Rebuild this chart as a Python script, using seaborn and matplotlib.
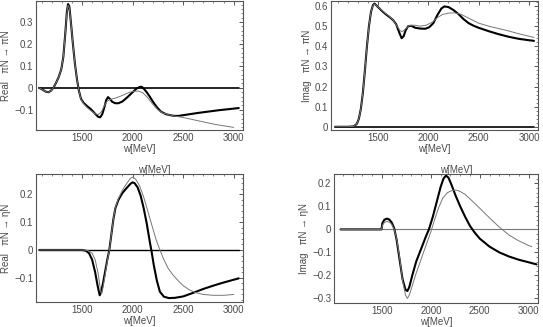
import numpy as np
import matplotlib
matplotlib.use('Agg')
import matplotlib.pyplot as plt
import seaborn as sns
from matplotlib.ticker import MultipleLocator, FuncFormatter

# ──────────────────────────────────────────
# Data (w in MeV)
# ──────────────────────────────────────────
# Real  piN -> piN
re_pi_x_a = [1077, 1110, 1140, 1170, 1195, 1220, 1245, 1270, 1295, 1315, 1335, 1350, 1362, 1375, 1390,
             1410, 1430, 1450, 1470, 1490, 1515, 1550, 1590, 1630, 1660, 1680, 1700, 1720, 1740, 1757,
             1775, 1800, 1830, 1860, 1900, 1950, 2000, 2040, 2070, 2090, 2110, 2140, 2170, 2200, 2240,
             2280, 2330, 2400, 2450, 2550, 2650, 2750, 2850, 2950, 3050]
re_pi_y_a = [0.0, -0.008, -0.017, -0.020, -0.012, 0.003, 0.025, 0.050, 0.085, 0.140, 0.250, 0.345, 0.382,
             0.370, 0.300, 0.200, 0.110, 0.040, -0.015, -0.050, -0.068, -0.083, -0.098, -0.118, -0.132,
             -0.134, -0.120, -0.090, -0.055, -0.042, -0.050, -0.064, -0.070, -0.070, -0.062, -0.042,
             -0.020, -0.003, 0.004, 0.005, -0.003, -0.020, -0.040, -0.062, -0.088, -0.108, -0.120,
             -0.127, -0.128, -0.121, -0.114, -0.108, -0.102, -0.097, -0.092]
re_pi_x_b = [1077, 1110, 1140, 1170, 1195, 1220, 1245, 1270, 1295, 1315, 1335, 1350, 1362, 1375, 1390,
             1410, 1430, 1450, 1470, 1490, 1515, 1550, 1590, 1630, 1660, 1690, 1720, 1750, 1780, 1820,
             1870, 1920, 1970, 2020, 2060, 2100, 2150, 2200, 2250, 2300, 2400, 2500, 2600, 2700, 2800,
             2900, 3000]
re_pi_y_b = [0.0, -0.008, -0.017, -0.020, -0.012, 0.003, 0.025, 0.050, 0.085, 0.140, 0.250, 0.340, 0.376,
             0.365, 0.300, 0.200, 0.110, 0.040, -0.015, -0.052, -0.072, -0.090, -0.105, -0.118, -0.122,
             -0.110, -0.082, -0.060, -0.052, -0.048, -0.040, -0.030, -0.020, -0.015, -0.015, -0.022,
             -0.045, -0.075, -0.100, -0.115, -0.127, -0.135, -0.145, -0.155, -0.165, -0.173, -0.180]

# Imag  piN -> piN
im_pi_x_a = [1077, 1200, 1260, 1290, 1310, 1330, 1350, 1370, 1390, 1410, 1430, 1450, 1465, 1490, 1530,
             1570, 1610, 1650, 1680, 1710, 1735, 1755, 1775, 1800, 1830, 1870, 1920, 1970, 2010, 2050,
             2090, 2130, 2160, 2200, 2250, 2300, 2350, 2400, 2450, 2500, 2600, 2700, 2800, 2900, 3000, 3050]
im_pi_y_a = [0.0, 0.0, 0.002, 0.015, 0.04, 0.09, 0.17, 0.28, 0.40, 0.50, 0.57, 0.605, 0.612, 0.600, 0.580,
             0.562, 0.547, 0.530, 0.510, 0.470, 0.440, 0.450, 0.480, 0.500, 0.502, 0.492, 0.488, 0.487,
             0.495, 0.515, 0.555, 0.588, 0.598, 0.595, 0.580, 0.560, 0.535, 0.515, 0.502, 0.492, 0.475,
             0.460, 0.447, 0.437, 0.430, 0.427]
im_pi_x_b = [1077, 1200, 1260, 1290, 1310, 1330, 1350, 1370, 1390, 1410, 1430, 1450, 1465, 1490, 1530,
             1570, 1610, 1650, 1690, 1720, 1740, 1770, 1810, 1860, 1920, 1980, 2040, 2090, 2140, 2200,
             2260, 2320, 2400, 2500, 2600, 2700, 2800, 2900, 3000, 3050]
im_pi_y_b = [0.0, 0.0, 0.002, 0.015, 0.04, 0.09, 0.17, 0.28, 0.40, 0.50, 0.57, 0.603, 0.610, 0.600, 0.582,
             0.565, 0.550, 0.530, 0.500, 0.478, 0.472, 0.485, 0.503, 0.505, 0.500, 0.505, 0.520, 0.542,
             0.558, 0.565, 0.566, 0.560, 0.540, 0.515, 0.500, 0.488, 0.476, 0.462, 0.450, 0.444]

# Real  piN -> etaN
re_eta_x_a = [1077, 1300, 1500, 1540, 1570, 1600, 1630, 1655, 1675, 1690, 1710, 1730, 1750, 1770, 1790,
              1810, 1830, 1860, 1900, 1940, 1980, 2000, 2020, 2050, 2080, 2110, 2140, 2170, 2190, 2210,
              2240, 2270, 2310, 2360, 2420, 2500, 2600, 2700, 2800, 2900, 3000, 3050]
re_eta_y_a = [0.0, 0.0, 0.0, -0.003, -0.012, -0.035, -0.080, -0.130, -0.163, -0.150, -0.115, -0.075,
              -0.035, 0.0, 0.055, 0.110, 0.150, 0.180, 0.205, 0.222, 0.238, 0.243, 0.240, 0.225, 0.195,
              0.150, 0.095, 0.030, -0.010, -0.055, -0.110, -0.150, -0.168, -0.173, -0.172, -0.167,
              -0.154, -0.140, -0.128, -0.117, -0.107, -0.102]
re_eta_x_b = [1077, 1300, 1500, 1560, 1600, 1630, 1660, 1685, 1695, 1710, 1730, 1750, 1770, 1790, 1810,
              1830, 1860, 1900, 1940, 1980, 2000, 2030, 2070, 2110, 2150, 2190, 2230, 2270, 2310, 2350,
              2400, 2450, 2500, 2560, 2620, 2700, 2800, 2900, 3000]
re_eta_y_b = [0.0, 0.0, 0.0, -0.002, -0.012, -0.035, -0.085, -0.150, -0.158, -0.130, -0.085, -0.040,
              0.0, 0.055, 0.110, 0.152, 0.185, 0.215, 0.238, 0.258, 0.262, 0.255, 0.230, 0.190, 0.140,
              0.090, 0.040, 0.0, -0.035, -0.065, -0.090, -0.110, -0.128, -0.143, -0.153, -0.160,
              -0.163, -0.163, -0.160]

# Imag  piN -> etaN
im_eta_x_a = [1077, 1300, 1495, 1505, 1525, 1550, 1575, 1600, 1625, 1650, 1680, 1710, 1740, 1760, 1780,
              1810, 1850, 1900, 1950, 1980, 2020, 2060, 2100, 2130, 2155, 2180, 2210, 2250, 2300, 2350,
              2400, 2450, 2500, 2600, 2700, 2800, 2900, 3000, 3080]
im_eta_y_a = [0.0, 0.0, 0.0, 0.028, 0.042, 0.047, 0.043, 0.030, 0.005, -0.045, -0.130, -0.215, -0.262,
              -0.268, -0.250, -0.200, -0.140, -0.085, -0.030, 0.000, 0.055, 0.120, 0.185, 0.222, 0.234,
              0.225, 0.195, 0.150, 0.100, 0.055, 0.015, -0.015, -0.040, -0.075, -0.100, -0.118, -0.132,
              -0.143, -0.152]
im_eta_x_b = [1077, 1300, 1495, 1505, 1525, 1550, 1575, 1600, 1625, 1650, 1680, 1710, 1740, 1760, 1780,
              1810, 1850, 1900, 1950, 2000, 2040, 2080, 2120, 2170, 2220, 2260, 2300, 2350, 2400, 2500,
              2600, 2700, 2800, 2900, 3000, 3030]
im_eta_y_b = [0.0, 0.0, 0.0, 0.018, 0.030, 0.035, 0.032, 0.022, 0.000, -0.040, -0.120, -0.220, -0.285,
              -0.300, -0.285, -0.245, -0.190, -0.130, -0.070, -0.010, 0.045, 0.095, 0.135, 0.160, 0.170,
              0.171, 0.165, 0.152, 0.133, 0.092, 0.050, 0.010, -0.025, -0.050, -0.070, -0.075]

ylabels = ['Real   \u03c0N \u2192 \u03c0N', 'Imag   \u03c0N \u2192 \u03c0N',
           'Real   \u03c0N \u2192 \u03b7N', 'Imag   \u03c0N \u2192 \u03b7N']
xlabel = 'w[MeV]'

# ──────────────────────────────────────────
# Style
# ──────────────────────────────────────────
sns.set_style('white')
plt.rcParams['font.family'] = ['Liberation Sans', 'DejaVu Sans']
fs = 7
text_col = '#4a4a4a'

fig = plt.figure(figsize=(5.43, 3.27), dpi=100)
W, H = 543, 327
def add_ax(l, r, t, b):
    return fig.add_axes([l / W, 1 - b / H, (r - l) / W, (b - t) / H])

ax_tl = add_ax(36, 243, 1, 130)
ax_tr = add_ax(331, 538, 1, 130)
ax_bl = add_ax(36, 243, 174, 302)
ax_br = add_ax(334, 538, 174, 303)

panels = [
    (ax_tl, re_pi_x_a, re_pi_y_a, re_pi_x_b, re_pi_y_b, (1045, 3092), (-0.192, 0.396), 'black', 1.2),
    (ax_tr, im_pi_x_a, im_pi_y_a, im_pi_x_b, im_pi_y_b, (1033, 3090), (-0.016, 0.625), 'black', 1.2),
    (ax_bl, re_eta_x_a, re_eta_y_a, re_eta_x_b, re_eta_y_b, (1045, 3092), (-0.187, 0.273), 'black', 1.0),
    (ax_br, im_eta_x_a, im_eta_y_a, im_eta_x_b, im_eta_y_b, (1010, 3095), (-0.32, 0.241), '#777777', 0.8),
]

def fmt(v, pos):
    if abs(v) < 1e-9:
        return '0'
    return f'{v:.1f}'.replace('-', '\u2212')

for i, (ax, xa, ya, xb, yb, xl, yl, zc, zw) in enumerate(panels):
    # zero line
    ax.plot([1077, 3055 if i < 3 else 3085], [0, 0], color=zc, lw=zw, zorder=1)
    sns.lineplot(x=xa, y=ya, ax=ax, color='black', linewidth=1.5, sort=False, estimator=None, zorder=2)
    sns.lineplot(x=xb, y=yb, ax=ax, color='#777777', linewidth=0.7, sort=False, estimator=None, zorder=3)
    ax.set_xlim(*xl)
    ax.set_ylim(*yl)
    ax.xaxis.set_major_locator(MultipleLocator(500))
    ax.xaxis.set_minor_locator(MultipleLocator(100))
    ax.yaxis.set_major_locator(MultipleLocator(0.1))
    ax.yaxis.set_minor_locator(MultipleLocator(0.02))
    ax.yaxis.set_major_formatter(FuncFormatter(fmt))
    ax.xaxis.set_major_formatter(FuncFormatter(lambda v, p: f'{int(v)}'))
    ax.tick_params(which='both', direction='in', top=True, right=True, colors='#555555',
                   labelcolor=text_col, labelsize=fs, pad=2)
    ax.tick_params(which='major', length=3, width=0.7)
    ax.tick_params(which='minor', length=1.5, width=0.5)
    for s in ax.spines.values():
        s.set_color('#555555')
        s.set_linewidth(0.8)
    ax.set_xlabel(xlabel, color=text_col, fontsize=fs, labelpad=1)
    ax.set_ylabel(ylabels[i], color=text_col, fontsize=fs, labelpad=2)

ax_bl.set_title(xlabel, color=text_col, fontsize=fs, x=0.57, pad=1)
ax_br.set_title(xlabel, color=text_col, fontsize=fs, x=0.6, pad=1)

fig.savefig('out.png', dpi=100)
